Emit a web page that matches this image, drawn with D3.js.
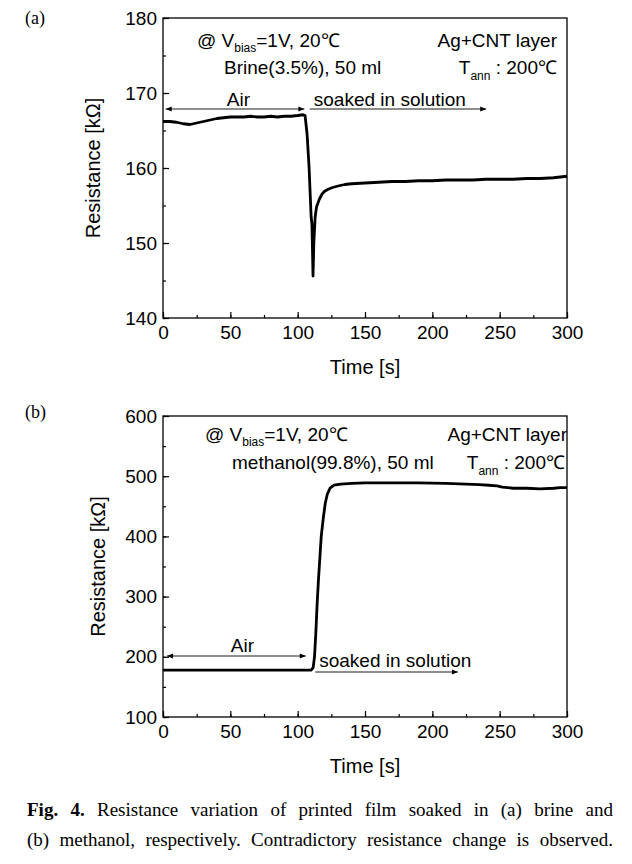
<!DOCTYPE html>
<html><head><meta charset="utf-8">
<script src="https://cdn.jsdelivr.net/npm/d3@7/dist/d3.min.js"></script>
<style>
body{margin:0;background:#fff;}
svg{display:block;}
text{fill:#000;}
</style></head>
<body>
<svg id="c" width="632" height="864"></svg>
<script>
// ---------- DATA ----------
const xTicks = [0, 50, 100, 150, 200, 250, 300];
const yTicksA = [140, 150, 160, 170, 180];
const yTicksB = [100, 200, 300, 400, 500, 600];

const timeA = [0, 5, 10, 15, 20, 25, 30, 35, 40, 45, 50, 55, 60, 65, 70, 75, 80, 85, 90, 95, 100, 104, 105.5, 107, 108.5, 110, 110.6, 111.4, 112, 113, 114, 116, 118, 120, 123, 126, 130, 135, 140, 150, 160, 170, 180, 190, 200, 210, 220, 230, 240, 250, 260, 270, 280, 290, 300];
const resA = [166.2, 166.2, 166.1, 165.9, 165.8, 166.0, 166.2, 166.4, 166.6, 166.7, 166.8, 166.8, 166.8, 166.9, 166.8, 166.8, 166.9, 166.8, 166.9, 166.9, 167.0, 167.1, 167.0, 164.5, 160.0, 153.5, 152.5, 145.6, 150.0, 153.5, 154.8, 155.8, 156.5, 156.9, 157.2, 157.4, 157.6, 157.8, 157.9, 158.0, 158.1, 158.2, 158.2, 158.3, 158.3, 158.4, 158.4, 158.4, 158.5, 158.5, 158.5, 158.6, 158.6, 158.7, 158.9];

const timeB = [0, 50, 100, 110, 111.5, 112.5, 113.5, 114.5, 115.5, 116.5, 117.5, 119, 120.5, 122, 124, 127, 132, 140, 150, 170, 190, 210, 225, 235, 242, 248, 252, 256, 260, 270, 280, 290, 295, 300];
const resB = [178, 178, 178, 178, 182, 200, 240, 290, 330, 365, 400, 430, 455, 470, 480, 485, 487, 488, 489, 489, 489, 488, 487, 486, 485, 484, 482, 481, 480, 480, 479, 480, 481, 481];

const captionLines = [
  [["Fig.", true], ["4.", true], ["Resistance", false], ["variation", false], ["of", false], ["printed", false], ["film", false], ["soaked", false], ["in", false], ["(a)", false], ["brine", false], ["and", false]],
  [["(b)", false], ["methanol,", false], ["respectively.", false], ["Contradictory", false], ["resistance", false], ["change", false], ["is", false], ["observed.", false]]
];

// ---------- DRAW ----------
const svg = d3.select("#c");
const SANS = "Arial, 'Liberation Sans', Helvetica, sans-serif";
const SERIF = "'Times New Roman', 'Liberation Serif', serif";
const FS = 19;

svg.append("defs").append("marker")
  .attr("id", "ah").attr("viewBox", "0 0 10 10").attr("refX", 10).attr("refY", 5)
  .attr("markerWidth", 8).attr("markerHeight", 6).attr("markerUnits", "userSpaceOnUse")
  .attr("orient", "auto-start-reverse")
  .append("path").attr("d", "M0,1 L10,5 L0,9 Z").attr("fill", "#000");

function panel(cfg) {
  const x = d3.scaleLinear().domain([0, 300]).range([163, 567]);
  const y = d3.scaleLinear().domain(cfg.ydom).range(cfg.yrange);
  const g = svg.append("g");
  const [x0, x1] = x.range();
  const [yb, yt] = y.range();

  g.append("rect").attr("x", x0).attr("y", yt).attr("width", x1 - x0).attr("height", yb - yt)
    .attr("fill", "none").attr("stroke", "#000").attr("stroke-width", 1.3);

  const xMinor = d3.range(0, 301, 25);
  g.append("g").attr("transform", `translate(0,${yb})`)
    .call(d3.axisBottom(x).tickValues(xMinor).tickSize(-3).tickFormat(""))
    .call(s => s.select(".domain").remove());
  g.append("g").attr("transform", `translate(0,${yb})`)
    .call(d3.axisBottom(x).tickValues(xTicks).tickSize(-6).tickPadding(8).tickFormat(d3.format("d")))
    .call(s => s.select(".domain").remove())
    .call(s => s.selectAll("text").attr("font-family", SANS).attr("font-size", FS).attr("fill", "#000"));

  g.append("g").attr("transform", `translate(${x0},0)`)
    .call(d3.axisLeft(y).tickValues(cfg.yminor).tickSize(-3).tickFormat(""))
    .call(s => s.select(".domain").remove());
  g.append("g").attr("transform", `translate(${x0},0)`)
    .call(d3.axisLeft(y).tickValues(cfg.yticks).tickSize(-6).tickPadding(6).tickFormat(d3.format("d")))
    .call(s => s.select(".domain").remove())
    .call(s => s.selectAll("text").attr("font-family", SANS).attr("font-size", FS).attr("fill", "#000"));
  g.selectAll(".tick line").attr("stroke", "#000").attr("stroke-width", 1.2);

  g.append("text").attr("x", (x0 + x1) / 2).attr("y", yb + 56).attr("text-anchor", "middle")
    .attr("font-family", SANS).attr("font-size", 20).text("Time [s]");
  g.append("text").attr("transform", `translate(${cfg.ylabX},${(yb + yt) / 2}) rotate(-90)`)
    .attr("text-anchor", "middle").attr("font-family", SANS).attr("font-size", 20).text("Resistance [kΩ]");

  g.append("text").attr("x", 25).attr("y", cfg.panelY).attr("font-family", SERIF).attr("font-size", 18).text(cfg.panel);

  const line = d3.line().x(d => x(d[0])).y(d => y(d[1])).curve(d3.curveLinear);
  g.append("path").datum(d3.zip(cfg.t, cfg.r)).attr("d", line)
    .attr("fill", "none").attr("stroke", "#000").attr("stroke-width", 2.8).attr("stroke-linejoin", "round");

  cfg.notes(g, x, y);
  return g;
}

function vbias(g, xs, yb, spaced) {
  const t = g.append("text").attr("x", xs).attr("y", yb).attr("font-family", SANS).attr("font-size", FS);
  t.append("tspan").text(spaced ? "@  V" : "@ V");
  t.append("tspan").attr("font-size", 12).attr("dy", 5).text("bias");
  t.append("tspan").attr("dy", -5).text(spaced ? "=1V,  20℃" : "=1V, 20℃");
}
function tann(g, xe, yb) {
  const t = g.append("text").attr("x", xe).attr("y", yb).attr("text-anchor", "end").attr("font-family", SANS).attr("font-size", FS);
  t.append("tspan").text("T");
  t.append("tspan").attr("font-size", 12).attr("dy", 6).text("ann");
  t.append("tspan").attr("dy", -6).text(" : 200℃");
}
function arrow(g, xa, xb, yy, both) {
  const l = g.append("line").attr("x1", xa).attr("x2", xb).attr("y1", yy).attr("y2", yy)
    .attr("stroke", "#000").attr("stroke-width", 0.9).attr("marker-end", "url(#ah)");
  if (both) l.attr("marker-start", "url(#ah)");
}
function label(g, xx, yy, s, anchor) {
  g.append("text").attr("x", xx).attr("y", yy).attr("text-anchor", anchor || "start")
    .attr("font-family", SANS).attr("font-size", FS).text(s);
}

panel({
  ydom: [140, 180], yrange: [318, 18], yticks: yTicksA, yminor: d3.range(140, 181, 5),
  t: timeA, r: resA, ylabX: 100, panel: "(a)", panelY: 24,
  notes: (g, x, y) => {
    vbias(g, 197, 47, false);
    label(g, 224, 74, "Brine(3.5%), 50 ml");
    label(g, 557, 47, "Ag+CNT layer", "end");
    tann(g, 557, 74);
    arrow(g, x(2), x(105), y(170) + 16, true);
    label(g, x(56), y(170) + 13, "Air", "middle");
    arrow(g, x(109), x(240), y(170) + 16, false);
    label(g, x(109) + 4, y(170) + 13, "soaked in solution");
  }
});

panel({
  ydom: [100, 600], yrange: [717, 416], yticks: yTicksB, yminor: d3.range(100, 601, 50),
  t: timeB, r: resB, ylabX: 105, panel: "(b)", panelY: 418,
  notes: (g, x, y) => {
    vbias(g, 205, 441, true);
    label(g, 232, 469, "methanol(99.8%), 50 ml");
    label(g, 567, 441, "Ag+CNT layer", "end");
    tann(g, 565, 469);
    arrow(g, x(3), x(106), 656, true);
    label(g, x(59), 652, "Air", "middle");
    arrow(g, x(113), x(219), 672, false);
    label(g, x(116), 667, "soaked in solution");
  }
});

// caption (justified)
const capL = 27, capR = 613, capY = [816, 846];
captionLines.forEach((words, i) => {
  const tg = svg.append("g");
  const nodes = words.map(([w, b]) => tg.append("text").attr("y", capY[i]).attr("font-family", SERIF)
    .attr("font-size", 19).attr("font-weight", b ? "bold" : "normal").text(w));
  const widths = nodes.map(n => n.node().getComputedTextLength());
  const total = d3.sum(widths);
  const gap = (capR - capL - total) / (words.length - 1);
  let cx = capL;
  nodes.forEach((n, k) => { n.attr("x", cx); cx += widths[k] + gap; });
});
</script>
</body></html>
